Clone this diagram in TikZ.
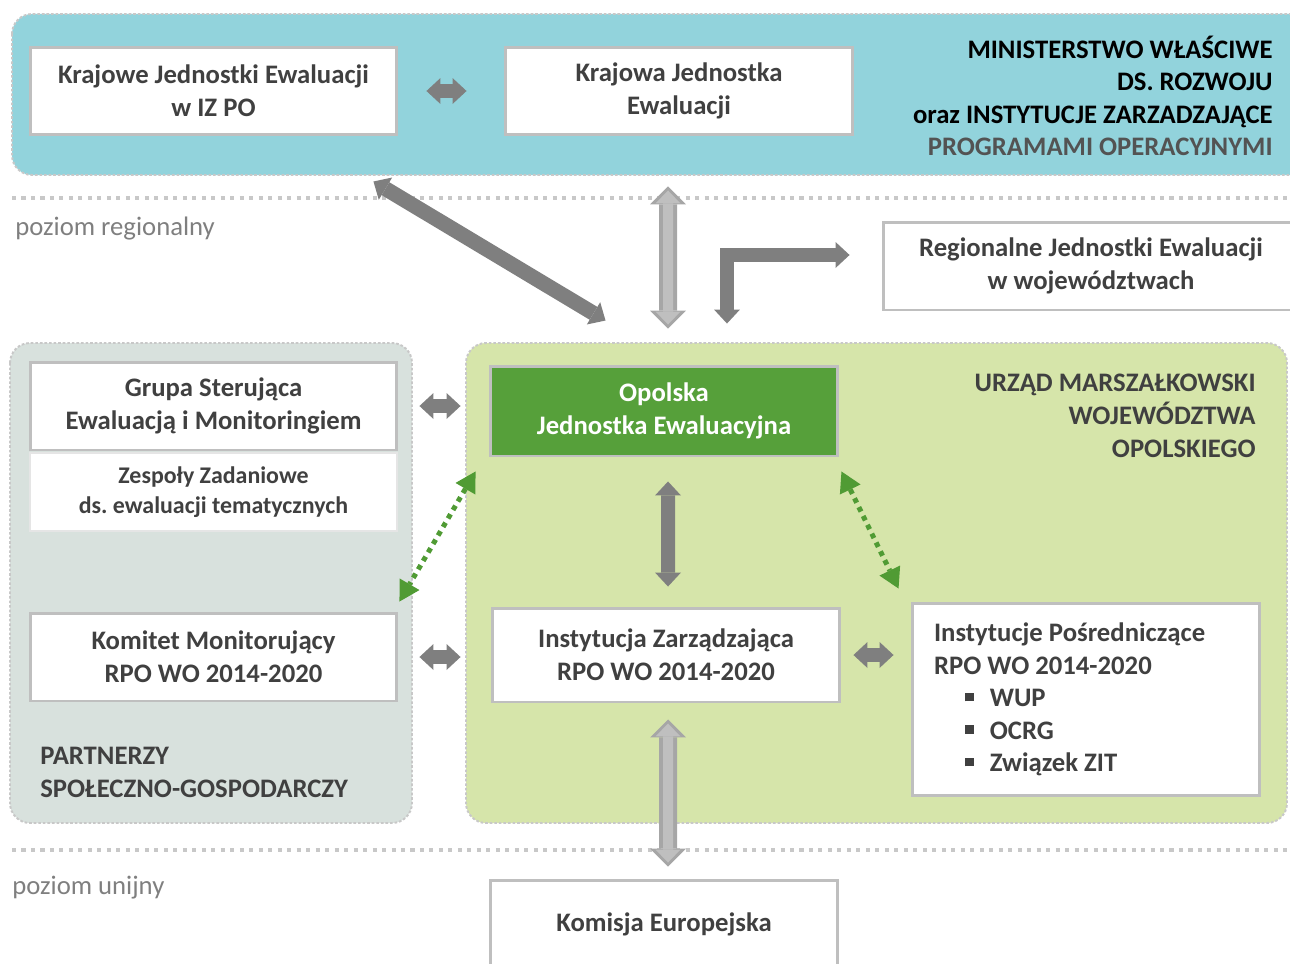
\documentclass[tikz,border=0pt]{standalone}
\usepackage{fontspec}
\setmainfont{Carlito}
\usetikzlibrary{arrows.meta}
\definecolor{niebieski}{RGB}{146,211,220}
\definecolor{zielony}{RGB}{214,229,170}
\definecolor{szary}{RGB}{216,225,221}
\definecolor{ciemnyziel}{RGB}{86,160,58}
\definecolor{obwod}{RGB}{191,191,191}
\definecolor{tekst}{RGB}{64,64,64}
\definecolor{strzalka}{RGB}{127,127,127}
\definecolor{jasna}{RGB}{191,191,191}
\definecolor{jasnaobw}{RGB}{166,166,166}
\definecolor{kropki}{RGB}{80,155,52}
\definecolor{linia}{RGB}{200,200,200}
\newcommand{\kwadrat}{\raisebox{0.2em}{\rule{0.33em}{0.33em}}}
\frenchspacing

\begin{document}
\begin{tikzpicture}[x=0.02cm, y=-0.02cm, font=\fontsize{15.2}{18.7}\selectfont\bfseries,
    pole/.style={draw=linia, line width=1.1pt, dash pattern=on 1.5pt off 1.1pt, rounded corners=0.4cm},
    ramka/.style={draw=obwod, line width=1.7pt, fill=white, text=tekst, align=center, minimum width=7.34cm, minimum height=1.76cm, inner sep=0pt},
    gruba/.style={line width=0.28cm, draw=strzalka, arrows={Triangle[width=0.52cm,length=0.28cm,line width=0pt]-Triangle[width=0.52cm,length=0.28cm,line width=0pt]}},
    jasna1/.style={line width=0.36cm, draw=jasnaobw, arrows={Triangle[width=0.72cm,length=0.36cm,line width=0pt]-Triangle[width=0.72cm,length=0.36cm,line width=0pt]}},
    jasna2/.style={line width=0.2cm, draw=jasna, arrows={Triangle[width=0.5cm,length=0.26cm,line width=0pt]-Triangle[width=0.5cm,length=0.26cm,line width=0pt]}},
    kropkowana/.style={line width=0.1cm, draw=kropki, dash pattern=on 2.8pt off 2.8pt, arrows={Triangle[width=0.46cm,length=0.4cm,line width=0pt]-Triangle[width=0.46cm,length=0.4cm,line width=0pt]}},
    poziom/.style={draw=linia, line width=2.3pt, dash pattern=on 2.3pt off 3.1pt}]
    \useasboundingbox (0,0) rectangle (1290,963);

    % pola w tle
    \filldraw[pole, fill=niebieski] (12,14) rectangle (1320,175);
    \filldraw[pole, fill=szary] (10,343) rectangle (412,823);
    \filldraw[pole, fill=zielony] (466,343) rectangle (1287,823);

    % linie poziomow
    \draw[poziom] (12,198) -- (1290,198);
    \draw[poziom] (12,850) -- (1290,850);
    \node[anchor=west, inner sep=0pt, text=strzalka, font=\fontsize{15.2}{18}\selectfont] (pr) at (15,229) {poziom regionalny};
    \node[anchor=west, inner sep=0pt, text=strzalka, font=\fontsize{15.2}{18}\selectfont] (pu) at (12,888) {poziom unijny};

    % poziom krajowy
    \node[ramka] (kjiz) at (213.5,91) {Krajowe Jednostki Ewaluacji\\w IZ PO};
    \node[ramka, minimum width=6.96cm] (kje) at (679,91) {Krajowa Jednostka\\Ewaluacji};
    \node[anchor=east, align=right, inner sep=0pt, text=black, font=\fontsize{15.2}{18.4}\selectfont\bfseries] (min) at (1273,96)
        {MINISTERSTWO WŁAŚCIWE\\DS. ROZWOJU\\oraz INSTYTUCJE ZARZADZAJĄCE\\\textcolor{tekst!90}{PROGRAMAMI OPERACYJNYMI}};
    \node[ramka, minimum width=8.32cm] (rje) at (1091,266) {Regionalne Jednostki Ewaluacji\\w województwach};

    % partnerzy
    \node[ramka] (gsem) at (213.5,406) {Grupa Sterująca\\Ewaluacją i Monitoringiem};
    \node[ramka, draw=white!90!black, line width=1pt, minimum height=1.56cm, font=\fontsize{13.6}{17}\selectfont\bfseries] (zz) at (213.5,492) {Zespoły Zadaniowe\\ds. ewaluacji tematycznych};
    \node[ramka] (km) at (213.5,657) {Komitet Monitorujący\\RPO WO 2014-2020};
    \node[anchor=west, align=left, inner sep=0pt, text=tekst] (psg) at (40,772) {PARTNERZY\\SPOŁECZNO-GOSPODARCZY};

    % urzad marszalkowski
    \node[ramka, fill=ciemnyziel, text=white, minimum width=6.96cm, minimum height=1.8cm] (oje) at (664,411) {Opolska\\Jednostka Ewaluacyjna};
    \node[anchor=east, align=right, inner sep=0pt, text=tekst] (umwo) at (1256,416) {URZĄD MARSZAŁKOWSKI\\WOJEWÓDZTWA\\OPOLSKIEGO};
    \node[ramka, minimum width=6.96cm, minimum height=1.88cm] (izz) at (666,655) {Instytucja Zarządzająca\\RPO WO 2014-2020};
    \node[ramka, minimum width=6.96cm, minimum height=3.86cm, align=flush left, text width=6.08cm, inner xsep=0.44cm, font=\fontsize{15.2}{18.5}\selectfont\bfseries] (ip) at (1086,699.5)
        {Instytucje Pośredniczące\\RPO WO 2014-2020\\\hspace*{0.62cm}\kwadrat\hspace{0.32cm}WUP\\\hspace*{0.62cm}\kwadrat\hspace{0.32cm}OCRG\\\hspace*{0.62cm}\kwadrat\hspace{0.32cm}Związek ZIT};

    % poziom unijny
    \node[ramka, minimum width=6.96cm] (ke) at (664,924) {Komisja Europejska};

    % strzalki
    \draw[gruba] ([xshift=0.56cm]kjiz.east) -- ([xshift=-0.74cm]kje.west);
    \draw[gruba, line width=0.3cm] ([xshift=-0.5cm,yshift=-0.9cm]kjiz.south east) -- ([xshift=2.34cm,yshift=0.88cm]oje.north west);
    \draw[jasna1] ([xshift=-0.22cm,yshift=-1cm]kje.south) -- ([xshift=0.08cm,yshift=0.72cm]oje.north);
    \draw[jasna2, shorten <=0.08cm, shorten >=0.08cm] ([xshift=-0.22cm,yshift=-1cm]kje.south) -- ([xshift=0.08cm,yshift=0.72cm]oje.north);
    \draw[gruba, sharp corners] ([xshift=1.26cm,yshift=0.82cm]oje.north) |- ([xshift=-0.64cm,yshift=0.22cm]rje.west);
    \draw[gruba] ([xshift=0.42cm]gsem.east) -- ([xshift=-0.56cm]oje.west |- gsem.east);
    \draw[gruba] ([xshift=0.08cm,yshift=-0.48cm]oje.south) -- ([xshift=0.04cm,yshift=0.4cm]izz.north);
    \draw[gruba] ([xshift=0.42cm]km.east) -- ([xshift=-0.6cm]izz.west |- km.east);
    \draw[gruba] ([xshift=0.24cm]izz.east) -- ([xshift=-0.34cm]izz.east -| ip.west);
    \draw[jasna1] ([xshift=0.04cm,yshift=-0.32cm]izz.south) -- ([xshift=0.08cm,yshift=0.24cm]ke.north);
    \draw[jasna2, shorten <=0.08cm, shorten >=0.08cm] ([xshift=0.04cm,yshift=-0.32cm]izz.south) -- ([xshift=0.08cm,yshift=0.24cm]ke.north);
    \draw[kropkowana] ([xshift=-0.26cm,yshift=-0.28cm]oje.south west) -- ([xshift=0.02cm,yshift=0.2cm]km.north east);
    \draw[kropkowana] ([xshift=0.04cm,yshift=-0.28cm]oje.south east) -- ([xshift=-0.24cm,yshift=0.26cm]ip.north west);
\end{tikzpicture}
\end{document}
